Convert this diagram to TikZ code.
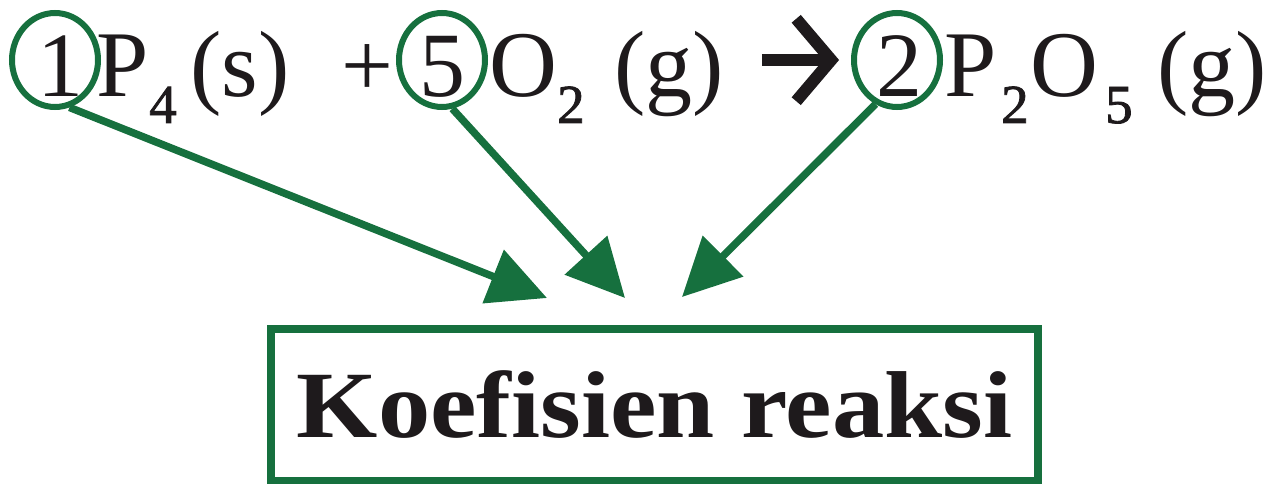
\documentclass[tikz,border=0pt]{standalone}
\usepackage{fontspec}
\setmainfont{Liberation Serif}
\newfontfamily\boxfont{Liberation Serif}[FakeStretch=1.1]
\newfontfamily\subfont{Liberation Serif}[FakeBold=1.5]
\usetikzlibrary{shapes.geometric,arrows.meta}
\definecolor{kgreen}{RGB}{22,112,62}
\definecolor{ink}{RGB}{30,26,28}
\begin{document}
\begin{tikzpicture}[x=1pt,y=-1pt,
  eq/.style={inner sep=0pt, anchor=base west, text=ink, font=\fontsize{94}{94}\selectfont},
  digit/.style={inner sep=0pt, anchor=base, text=ink, font=\fontsize{92}{92}\selectfont},
  subs/.style={inner sep=0pt, anchor=base west, text=ink, font=\subfont\fontsize{55}{55}\selectfont},
  coef/.style={ellipse, draw=kgreen, line width=6pt, inner sep=0pt, minimum width=86pt, minimum height=94pt},
  link/.style={draw=kgreen, line width=7.5pt, -{Triangle[length=58pt,width=56pt]}},
  yields/.style={draw=ink, line width=12pt, line join=miter},
  keybox/.style={draw=kgreen, line width=8pt, minimum width=767pt, minimum height=152pt, inner sep=0pt, text=ink, font=\boxfont\bfseries\fontsize{95}{95}\selectfont}]
\useasboundingbox (0,0) rectangle (1278,484);

% coefficient circles and digits
\node[coef] (c1) at (55,60) {};
\node[coef] (c5) at (442,60) {};
\node[coef] (c2) at (897,60) {};
\node[digit] (d1) at (60,97) {1};
\node[digit] (d5) at (442,97) {5};
\node[digit] (d2) at (899,97) {2};

% equation text
\node[eq] (p4) at (96,97) {P};
\node[subs] (s4) at (149,123) {4};
\node[eq] (st) at (190,97) {(s)};
\node[digit] (plus) at (367,97) {+};
\node[eq] (o2) at (489,97) {O};
\node[subs] (s2) at (557,123) {2};
\node[eq] (g1) at (614,97) {(g)};
\node[inner sep=0pt, minimum width=78pt, minimum height=74pt] (arr) at (801,60) {};
\draw[yields] (arr.west) -- ([xshift=-12pt]arr.east);
\draw[yields] ([xshift=-44pt,yshift=4pt]arr.north east) -- ([xshift=-9pt]arr.east) -- ([xshift=-44pt,yshift=-4pt]arr.south east);
\node[eq] (pp) at (944,97) {P};
\node[subs] (sp) at (1001,123) {2};
\node[eq] (oo) at (1030,97) {O};
\node[subs] (so) at (1105,123) {5};
\node[eq] (g2) at (1157,97) {(g)};

% target box
\node[keybox] (box) at (654.5,405) {Koefisien reaksi};

% arrow targets
\coordinate (t1) at (547,298);
\coordinate (t2) at (625,298);
\coordinate (t3) at (682,297);

\draw[link] (c1.-73) -- (t1);
\draw[link] (c5.-78) -- (t2);
\draw[link] (c2.244) -- (t3);
\end{tikzpicture}
\end{document}
